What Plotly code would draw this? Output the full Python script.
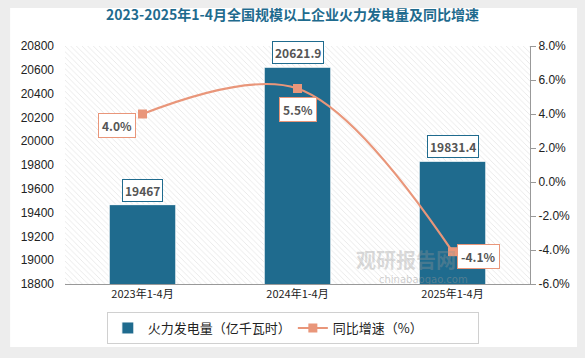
import plotly.graph_objects as go

categories = ["2023年1-4月", "2024年1-4月", "2025年1-4月"]
power = [19467, 20621.9, 19831.4]
growth = [4.0, 5.5, -4.1]
power_labels = ["19467", "20621.9", "19831.4"]
growth_labels = ["4.0%", "5.5%", "-4.1%"]
left_ticks = list(range(18800, 20801, 200))
right_ticks = [-6, -4, -2, 0, 2, 4, 6, 8]

BAR = "#1F6B8E"
LINE = "#E9967A"
FONT = "Noto Sans CJK SC"

fig = go.Figure()

# hatched plot background
fig.add_trace(go.Bar(x=[0.5], y=[1], width=[1], xaxis="x", yaxis="y",
                     marker=dict(color="white", line=dict(width=0),
                                 pattern=dict(shape="\\", fgcolor="#d0d0d0", bgcolor="white",
                                              size=4, solidity=0.22, fillmode="overlay")),
                     hoverinfo="skip", showlegend=False))

fig.add_trace(go.Bar(x=categories, y=power, xaxis="x2", yaxis="y2", name="火力发电量（亿千瓦时）",
                     marker=dict(color=BAR, line=dict(color="white", width=1)), width=0.43))

fig.add_trace(go.Scatter(x=categories, y=growth, xaxis="x2", yaxis="y3", name="同比增速（%）",
                         mode="lines+markers", line=dict(color=LINE, width=2.2, shape="spline", smoothing=1.0),
                         marker=dict(symbol="square", size=9, color=LINE)))

ann = []
ann.append(dict(x=0.845, y=0.035, xref="paper", yref="paper", text="<b>观研报告网</b>", showarrow=False,
                font=dict(family=FONT, size=20, color="rgba(150,150,150,0.35)")))
ann.append(dict(x=0.87, y=-0.012, xref="paper", yref="paper", text="chinabaogao.com", showarrow=False,
                font=dict(family="DejaVu Sans", size=10, color="rgba(150,150,150,0.45)")))
for c, v, t in zip(categories, power, power_labels):
    ann.append(dict(x=c, y=v, xref="x2", yref="y2", text="<b>%s</b>" % t, showarrow=False,
                    yanchor="bottom", yshift=3, font=dict(family=FONT, size=12, color="#555"),
                    bgcolor="white", bordercolor=BAR, borderwidth=1, borderpad=2))
shifts = [(-26, -11), (0, -21), (26, -5)]
for c, v, t, (dx, dy) in zip(categories, growth, growth_labels, shifts):
    ann.append(dict(x=c, y=v, xref="x2", yref="y3", text="<b>%s</b>" % t, showarrow=False,
                    xshift=dx, yshift=dy, font=dict(family=FONT, size=12, color="#555"),
                    bgcolor="white", bordercolor=LINE, borderwidth=1, borderpad=3))

fig.update_layout(
    width=585, height=358,
    margin=dict(l=65, r=55, t=46, b=74, autoexpand=False),
    paper_bgcolor="#ededed", plot_bgcolor="rgba(0,0,0,0)",
    font=dict(family=FONT, color="#222"),
    title=dict(text="<b>2023-2025年1-4月全国规模以上企业火力发电量及同比增速</b>", x=0.5, xanchor="center",
               y=0.957, yanchor="middle", font=dict(family=FONT, size=14, color="#1F6B8E")),
    shapes=[dict(type="rect", xref="paper", yref="paper", x0=-0.118, x1=1.101, y0=-0.265, y1=1.16,
                 fillcolor="white", line=dict(width=0), layer="below")],
    xaxis=dict(range=[0, 1], visible=False, fixedrange=True),
    yaxis=dict(range=[0, 1], visible=False, fixedrange=True),
    xaxis2=dict(overlaying="x", showline=True, linecolor="#999", linewidth=1, ticks="",
                tickfont=dict(size=11, color="#222", family=FONT)),
    yaxis2=dict(overlaying="y", range=[18800, 20800], tickvals=left_ticks,
                ticktext=[str(v) for v in left_ticks], showgrid=False, showline=False,
                zeroline=False, ticklabelstandoff=10,
                tickfont=dict(size=12, color="#222", family="Liberation Sans")),
    yaxis3=dict(overlaying="y", side="right", range=[-6, 8], tickvals=right_ticks,
                ticktext=["%.1f%%" % v for v in right_ticks], showgrid=False, zeroline=False,
                showline=True, linecolor="#999", ticks="outside", ticklen=5, tickcolor="#999",
                tickfont=dict(size=12, color="#222", family="Liberation Sans")),
    legend=dict(orientation="h", x=0.49, xanchor="center", y=-0.185, yanchor="middle",
                bordercolor="#d0d0d0", borderwidth=1, bgcolor="white",
                font=dict(size=13, family=FONT, color="#222"), entrywidth=140),
    annotations=ann,
    bargap=0.5,
)

fig.write_html("out.html", config={"displayModeBar": False},
               post_script="document.body.style.margin='0';document.body.style.padding='0';")
